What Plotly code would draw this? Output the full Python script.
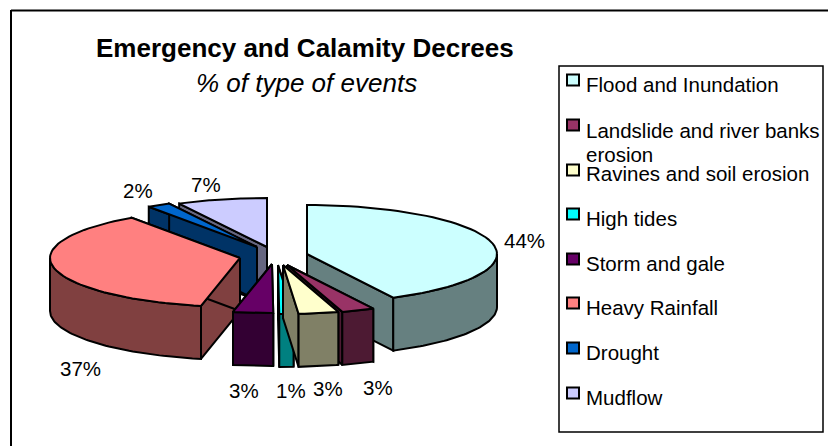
import numpy as np
import plotly.graph_objects as go

# ---- data ----
categories = ["Flood and Inundation", "Landslide and river banks<br>erosion", "Ravines and soil erosion",
              "High tides", "Storm and gale", "Heavy Rainfall", "Drought", "Mudflow"]
shares = [43.6, 2.8, 3.4, 1.2, 3.4, 37.1, 2.0, 6.6]

# ---- styles and layout ----
top_colors = ["#CCFFFF", "#993366", "#FFFFCC", "#00FFFF", "#660066", "#FF8080", "#0066CC", "#CCCCFF"]
wall_colors = ["#668080", "#4D1A33", "#808066", "#008080", "#330033", "#804040", "#003366", "#666680"]
apex = [(307, 254), (287, 265), (283, 265), (278, 265), (272, 264), (240, 258), (257, 247), (267, 247)]
label_pos = [(524, 240), (378, 387), (328, 388), (291, 390), (244, 390), (80, 368), (138, 190), (206, 184)]
legend_text_y = [84, 130, 173, 218, 263, 307, 352, 397]
legend_box_y = [80, 125, 170, 214, 259, 303, 348, 393]
draw_order = [7, 6, 5, 0, 1, 4, 3, 2]
RX, RY, DEPTH, ROT = 190.0, 49.0, 53.0, 3.8
FONT = "Liberation Sans, Arial, sans-serif"

edges = np.cumsum([0] + shares) / sum(shares) * 360.0
edges[1:-1] -= ROT


def ring(ax, ay, a0, a1, n=60):
    t = np.radians(np.linspace(a0, a1, n))
    return ax + RX * np.sin(t), ay - RY * np.cos(t)


fig = go.Figure()


def poly(x, y, color):
    fig.add_trace(go.Scatter(x=list(x) + [x[0]], y=list(y) + [y[0]], mode="lines", fill="toself",
                             fillcolor=color, line=dict(color="black", width=2),
                             hoverinfo="skip", showlegend=False))


for i in draw_order:
    ax, ay = apex[i]
    a0, a1 = edges[i], edges[i + 1]
    for a in (a0, a1):
        ex, ey = ring(ax, ay, a, a, 1)
        poly([ax, ex[0], ex[0], ax], [ay, ey[0], ey[0] + DEPTH, ay + DEPTH], wall_colors[i])
    lo, hi = max(a0, 90), min(a1, 270)
    if hi > lo:
        ox, oy = ring(ax, ay, lo, hi)
        poly(np.r_[ox, ox[::-1]], np.r_[oy, oy[::-1] + DEPTH], wall_colors[i])
    tx, ty = ring(ax, ay, a0, a1)
    poly(np.r_[ax, tx], np.r_[ay, ty], top_colors[i])

annotations = []


def text(x, y, s, size, anchor="center", **font):
    annotations.append(dict(x=x, y=y, xref="x", yref="y", text=s, showarrow=False, xanchor=anchor,
                            yanchor="middle", font=dict(family=FONT, size=size, color="black", **font)))


text(305, 48, "<b>Emergency and Calamity Decrees</b>", 26)
text(306, 83, "<i>% of type of events</i>", 26)
for s, (x, y) in zip(shares, label_pos):
    text(x, y, f"{round(s)}%", 20.5)

shapes = [
    dict(type="line", x0=11, x1=828, y0=10.5, y1=10.5, xref="x", yref="y", line=dict(color="black", width=2)),
    dict(type="line", x0=11, x1=11, y0=10, y1=446, xref="x", yref="y", line=dict(color="black", width=2)),
    dict(type="rect", x0=559, x1=823, y0=66, y1=432, xref="x", yref="y", line=dict(color="black", width=1.5)),
]
for name, ty, by, c in zip(categories, legend_text_y, legend_box_y, top_colors):
    shapes.append(dict(type="rect", x0=567, x1=579, y0=by - 5.5, y1=by + 5.5, xref="x", yref="y",
                       fillcolor=c, line=dict(color="black", width=2)))
    for k, line in enumerate(name.split("<br>")):
        text(584, ty + 24 * k, line, 20.5, anchor="left")

fig.update_layout(width=828, height=446, margin=dict(l=0, r=0, t=0, b=0), showlegend=False,
                  paper_bgcolor="white", plot_bgcolor="white",
                  xaxis=dict(range=[0, 828], visible=False, fixedrange=True),
                  yaxis=dict(range=[446, 0], visible=False, fixedrange=True),
                  annotations=annotations, shapes=shapes)
fig.write_html("out.html", config=dict(displayModeBar=False),
               post_script="document.body.style.margin='0';document.body.style.overflow='hidden';")
